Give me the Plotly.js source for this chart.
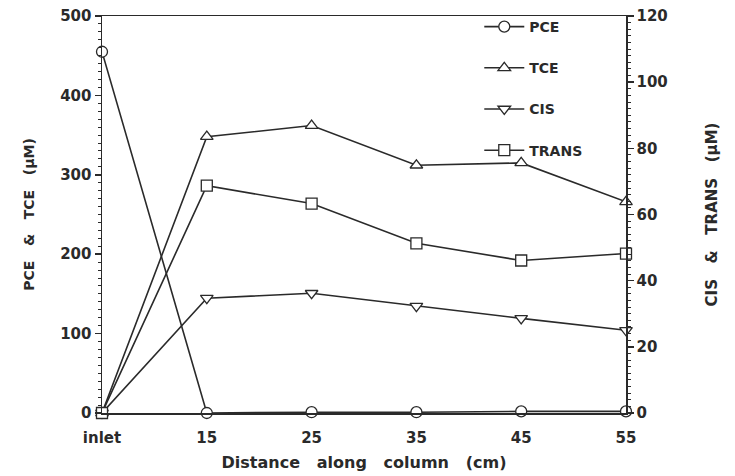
<!DOCTYPE html>
<html>
<head>
<meta charset="utf-8">
<script src="https://cdn.plot.ly/plotly-3.0.1.min.js"></script>
<style>html,body{margin:0;padding:0;background:#fff;}#chart{width:735px;height:476px;}</style>
</head>
<body>
<div id="chart"></div>
<script>
const categories = ["inlet", "15", "25", "35", "45", "55"];
const pce = [455, 0, 1, 1, 2, 2];
const tce = [0, 348, 362, 312, 315, 266];
const cis = [0, 34.7, 36.2, 32.3, 28.6, 25.0];
const trans = [0, 68.7, 63.3, 51.3, 46.1, 48.2];
const leftTicks = [0, 100, 200, 300, 400, 500];
const rightTicks = [0, 20, 40, 60, 80, 100, 120];

const ink = '#2a2a2a';
const fontFam = 'DejaVu Sans, Arial, sans-serif';
const sp = '\u00a0\u00a0\u00a0';

function tr(name, y, sym, axis, grp) {
  return {
    x: categories, y: y, name: name, type: 'scatter', mode: 'lines+markers',
    yaxis: axis, legendgroup: grp, cliponaxis: false,
    line: {color: ink, width: 1.6},
    marker: {symbol: sym, size: 11, color: '#ffffff', line: {color: ink, width: 1.3}}
  };
}

const data = [
  tr('PCE', pce, 'circle', 'y', 'a'),
  tr('TCE', tce, 'triangle-up', 'y', 'b'),
  tr('CIS', cis, 'triangle-down', 'y2', 'c'),
  tr('TRANS', trans, 'square', 'y2', 'd')
];

const layout = {
  width: 735, height: 476,
  margin: {l: 102, r: 109, t: 15, b: 63},
  paper_bgcolor: '#fff', plot_bgcolor: '#fff',
  font: {family: fontFam, color: ink, size: 14},
  showlegend: true,
  legend: {x: 0.72, y: 1.01, xanchor: 'left', yanchor: 'top', traceorder: 'grouped',
           tracegroupgap: 20, itemwidth: 40, bgcolor: 'rgba(0,0,0,0)',
           font: {family: fontFam, size: 14, color: ink, weight: 'bold'}},
  xaxis: {
    type: 'category', range: [0, 5], showgrid: false, zeroline: false,
    showline: true, linecolor: ink, linewidth: 1.5, mirror: true, ticks: '',
    ticklabelstandoff: 10,
    tickfont: {family: fontFam, size: 15, color: ink, weight: 'bold'},
    title: {text: 'Distance' + sp + 'along' + sp + 'column' + sp + '(cm)', standoff: 11,
            font: {family: fontFam, size: 16, color: ink, weight: 'bold'}}
  },
  yaxis: {
    range: [0, 500], tickvals: leftTicks, ticktext: leftTicks.map(String), showgrid: false, zeroline: false,
    showline: true, linecolor: ink, linewidth: 1.5, ticks: 'outside', ticklen: 6, tickwidth: 1.5, tickcolor: ink,
    minor: {dtick: 10, ticks: 'outside', ticklen: 3, tickwidth: 1, tickcolor: ink, showgrid: false},
    tickfont: {family: fontFam, size: 15, color: ink, weight: 'bold'},
    title: {text: 'PCE' + sp + '&' + sp + 'TCE' + sp + '(\u00b5M)', standoff: 22,
            font: {family: fontFam, size: 14, color: ink, weight: 'bold'}}
  },
  yaxis2: {
    overlaying: 'y', side: 'right', range: [0, 120], tickvals: rightTicks, ticktext: rightTicks.map(String),
    showgrid: false, zeroline: false,
    showline: true, linecolor: ink, linewidth: 1.5, ticks: 'outside', ticklen: 6, tickwidth: 1.5, tickcolor: ink,
    minor: {dtick: 2, ticks: 'outside', ticklen: 3, tickwidth: 1, tickcolor: ink, showgrid: false},
    tickfont: {family: fontFam, size: 15, color: ink, weight: 'bold'},
    title: {text: 'CIS' + sp + '&' + sp + 'TRANS' + sp + '(\u00b5M)', standoff: 39,
            font: {family: fontFam, size: 15, color: ink, weight: 'bold'}}
  }
};

Plotly.newPlot('chart', data, layout, {displayModeBar: false, staticPlot: true});
</script>
</body>
</html>
